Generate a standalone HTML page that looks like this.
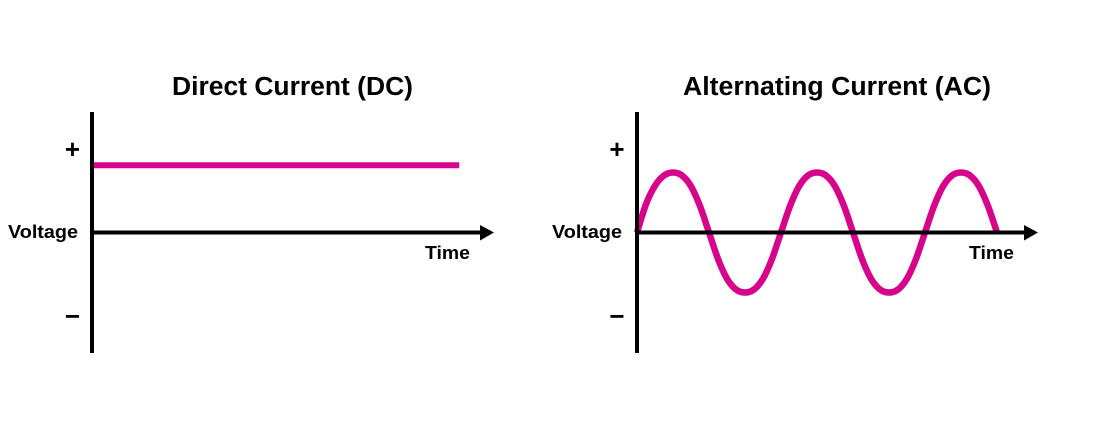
<!DOCTYPE html>
<html lang="en">
<head>
<meta charset="utf-8">
<title>Direct Current vs Alternating Current</title>
<style>
html,body{margin:0;padding:0;background:#fff;width:1094px;height:426px;overflow:hidden}
svg{display:block}
text{font-family:"Liberation Sans",sans-serif;font-weight:bold;fill:#000}
</style>
</head>
<body>
<svg xmlns="http://www.w3.org/2000/svg" width="1094" height="426" viewBox="0 0 1094 426">
  <rect width="1094" height="426" fill="#fff"/>

  <g>
    <text x="172" y="95" font-size="25.5" textLength="241" lengthAdjust="spacingAndGlyphs">Direct Current (DC)</text>
    <g id="dc-marks"></g>
    <line x1="92" y1="112" x2="92" y2="353" stroke="#000" stroke-width="4"/>
    <line x1="92" y1="232.5" x2="481" y2="232.5" stroke="#000" stroke-width="4"/>
    <polygon points="480,225 494,232.5 480,240.500" fill="#000"/>
    <text x="8" y="238" font-size="18.500" textLength="70" lengthAdjust="spacingAndGlyphs">Voltage</text>
    <text x="425" y="259" font-size="18.500" textLength="45" lengthAdjust="spacingAndGlyphs">Time</text>
    <text x="72.500" y="158" font-size="26" text-anchor="middle">+</text>
    <text x="72.500" y="325" font-size="26" text-anchor="middle">−</text>
  </g>

  <g>
    <text x="683" y="95" font-size="25.5" textLength="308" lengthAdjust="spacingAndGlyphs">Alternating Current (AC)</text>
    <g id="ac-marks"></g>
    <line x1="637" y1="112" x2="637" y2="353" stroke="#000" stroke-width="4"/>
    <line x1="637" y1="232.5" x2="1025" y2="232.5" stroke="#000" stroke-width="4"/>
    <polygon points="1024,225 1038,232.5 1024,240.500" fill="#000"/>
    <text x="552" y="238" font-size="18.500" textLength="70" lengthAdjust="spacingAndGlyphs">Voltage</text>
    <text x="969" y="259" font-size="18.500" textLength="45" lengthAdjust="spacingAndGlyphs">Time</text>
    <text x="617" y="158" font-size="26" text-anchor="middle">+</text>
    <text x="617" y="325" font-size="26" text-anchor="middle">−</text>
  </g>
</svg>
<script>
const dcTime = [0.01, 2.55];
const dcVoltage = [1.12, 1.12];
const acTime = [0, 0.0625, 0.125, 0.1875, 0.25, 0.3125, 0.375, 0.4375, 0.5, 0.5625, 0.625, 0.6875, 0.75, 0.8125, 0.875, 0.9375, 1, 1.0625, 1.125, 1.1875, 1.25, 1.3125, 1.375, 1.4375, 1.5, 1.5625, 1.625, 1.6875, 1.75, 1.8125, 1.875, 1.9375, 2, 2.0625, 2.125, 2.1875, 2.25, 2.3125, 2.375, 2.4375, 2.5];
const acVoltage = [0, 0.47, 0.78, 0.95, 1, 0.95, 0.77, 0.44, 0, -0.44, -0.77, -0.95, -1, -0.95, -0.77, -0.44, 0, 0.44, 0.77, 0.95, 1, 0.95, 0.77, 0.44, 0, -0.44, -0.77, -0.95, -1, -0.95, -0.77, -0.44, 0, 0.44, 0.77, 0.95, 1, 0.95, 0.77, 0.44, 0];

const SVG_NS = 'http://www.w3.org/2000/svg';
const SERIES_COLOR = '#d6048a';

function xScale(origin, t) { return origin + t * 144; }
function yScale(v) { return 232.5 - v * 60; }

function smoothPath(times, values, origin) {
  const pts = times.map((t, i) => [xScale(origin, t), yScale(values[i])]);
  let d = 'M' + pts[0][0].toFixed(2) + ' ' + pts[0][1].toFixed(2);
  for (let i = 0; i < pts.length - 1; i++) {
    const p0 = pts[Math.max(i - 1, 0)];
    const p1 = pts[i];
    const p2 = pts[i + 1];
    const p3 = pts[Math.min(i + 2, pts.length - 1)];
    const c1x = p1[0] + (p2[0] - p0[0]) / 6;
    const c1y = p1[1] + (p2[1] - p0[1]) / 6;
    const c2x = p2[0] - (p3[0] - p1[0]) / 6;
    const c2y = p2[1] - (p3[1] - p1[1]) / 6;
    d += 'C' + c1x.toFixed(2) + ' ' + c1y.toFixed(2) + ' ' + c2x.toFixed(2) + ' ' + c2y.toFixed(2) + ' ' + p2[0].toFixed(2) + ' ' + p2[1].toFixed(2);
  }
  return d;
}

const dcLine = document.createElementNS(SVG_NS, 'path');


dcLine.setAttribute('d', smoothPath(dcTime, dcVoltage, 92));
dcLine.setAttribute('fill', 'none');
dcLine.setAttribute('stroke', SERIES_COLOR);
dcLine.setAttribute('stroke-width', '6');
document.getElementById('dc-marks').appendChild(dcLine);

const acLine = document.createElementNS(SVG_NS, 'path');


acLine.setAttribute('d', smoothPath(acTime, acVoltage, 637));
acLine.setAttribute('fill', 'none');
acLine.setAttribute('stroke', SERIES_COLOR);
acLine.setAttribute('stroke-width', '6.5');
document.getElementById('ac-marks').appendChild(acLine);
</script>
</body>
</html>
